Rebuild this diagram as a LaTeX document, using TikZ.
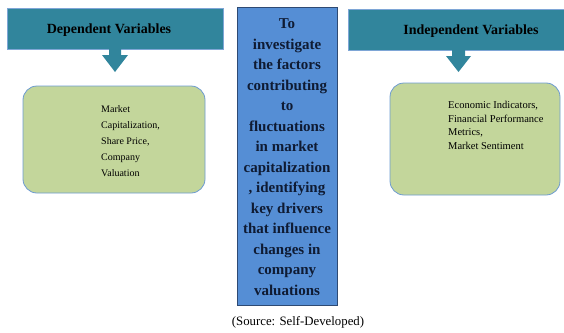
\documentclass[tikz,border=0pt]{standalone}
\usepackage{fontspec}
\setmainfont{Liberation Serif}
\definecolor{tealc}{HTML}{31859C}
\definecolor{tealb}{HTML}{7EA6D6}
\definecolor{greenc}{HTML}{C3D69B}
\definecolor{greenb}{HTML}{6D9BD1}
\definecolor{bluec}{HTML}{558ED5}
\definecolor{blueb}{HTML}{2E4A73}
\definecolor{navy}{HTML}{0F1B33}
\begin{document}
\begin{tikzpicture}[x=1pt,y=-1pt,
  headbox/.style={draw=tealb,fill=tealc,line width=0.8pt,inner sep=0pt},
  valbox/.style={draw=greenb,fill=greenc,line width=0.8pt,rounded corners=14pt,inner sep=0pt},
  mainbox/.style={draw=blueb,fill=bluec,line width=1pt,inner sep=0pt},
  headtxt/.style={font=\fontsize{14}{16}\selectfont\bfseries,text=black,inner sep=0pt},
  valtxt/.style={align=left,anchor=north west,inner sep=0pt,text=black},
  downarrow/.style={fill=tealc,draw=none}]
\useasboundingbox (0,0) rectangle (564,332);
% headers
\node[headbox,minimum width=216pt,minimum height=41pt] (lh) at (115,28.5) {};
\node[headtxt] (lht) at (109,30) {Dependent Variables};
\node[headbox,minimum width=216pt,minimum height=41pt] (rh) at (456,29.5) {};
\node[headtxt] (rht) at (471,31) {Independent Variables};
% arrows
\fill[downarrow] (109,49) -- (121,49) -- (121,55) -- (128,55) -- (115,72) -- (102,55) -- (109,55) -- cycle;
\fill[downarrow] (452,50) -- (465,50) -- (465,56) -- (471,56) -- (458.5,72) -- (446,56) -- (452,56) -- cycle;
% value boxes
\node[valbox,minimum width=182pt,minimum height=107pt] (lv) at (114,139.5) {};
\node[valtxt,font=\fontsize{10}{16}\selectfont] (lvt) at (101,105)
  {Market\\Capitalization,\\Share Price,\\Company\\Valuation};
\node[valbox,minimum width=170pt,minimum height=112pt] (rv) at (475,139) {};
\node[valtxt,font=\fontsize{10.5}{13.6}\selectfont] (rvt) at (448,101)
  {Economic Indicators,\\Financial Performance\\Metrics,\\Market Sentiment};
% main box
\node[mainbox,minimum width=100pt,minimum height=298pt] (mb) at (287,156) {};
\node[align=center,inner sep=0pt,text=navy,font=\fontsize{15}{20.5}\selectfont\bfseries] (mbt) at (287,157)
  {To\\investigate\\the factors\\contributing\\to\\fluctuations\\in market\\capitalization\\, identifying\\key drivers\\that influence\\changes in\\company\\valuations};
% caption
\node[font=\fontsize{12.8}{14}\selectfont,inner sep=0pt] (cap) at (298,322) {(Source: Self-Developed)};
\end{tikzpicture}
\end{document}
